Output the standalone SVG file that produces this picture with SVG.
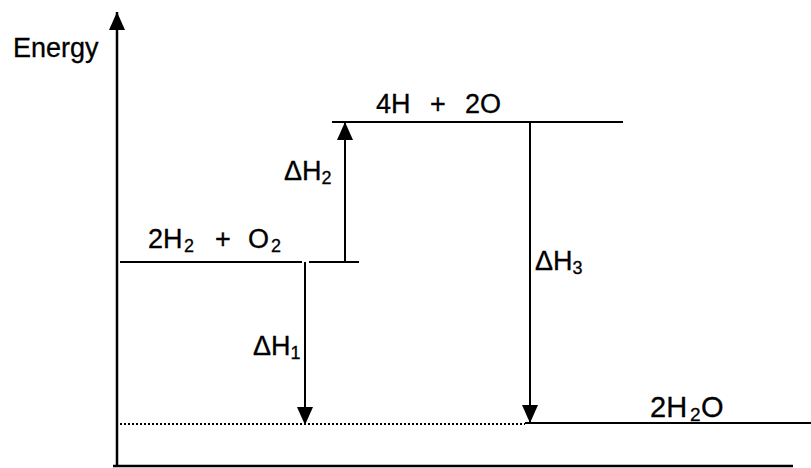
<svg xmlns="http://www.w3.org/2000/svg" width="811" height="468" viewBox="0 0 811 468">
<style>
.ln{stroke:#000;stroke-width:2;fill:none}
.t{font-family:"Liberation Sans",Arial,sans-serif;font-size:27px;fill:#000;stroke:#000;stroke-width:0.3}
.s{font-size:18px}
</style>
<defs>
<marker id="ahs" viewBox="0 0 18 16" refX="18" refY="8" markerWidth="18" markerHeight="16" markerUnits="userSpaceOnUse" orient="auto">
<path d="M0,0 L18,8 L0,16 z" fill="#000"/>
</marker>
</defs>
<rect width="811" height="468" fill="#fff"/>
<g id="axes">
<line class="ln" x1="117" y1="467" x2="117" y2="12" style="stroke-width:2.5" marker-end="url(#ahs)"/>
<line class="ln" x1="113" y1="466" x2="793" y2="466" style="stroke-width:2.5"/>
<text class="t" x="13" y="57">Energy</text>
</g>
<g id="level-reactants">
<line class="ln" x1="120" y1="262" x2="302" y2="262"/>
<line class="ln" x1="309" y1="262" x2="359" y2="262"/>
<text class="t" y="248"><tspan x="148">2H</tspan><tspan class="s" x="184" dy="4">2</tspan><tspan x="215" dy="-4">+</tspan><tspan x="248">O</tspan><tspan class="s" x="271" dy="4">2</tspan></text>
</g>
<g id="level-atoms">
<line class="ln" x1="332" y1="122" x2="623" y2="122"/>
<text class="t" y="113"><tspan x="376">4H</tspan><tspan x="430">+</tspan><tspan x="465">2O</tspan></text>
</g>
<g id="level-product">
<line class="ln" x1="525" y1="423" x2="811" y2="423"/>
<line x1="120" y1="424" x2="525" y2="424" stroke="#000" stroke-width="2.2" stroke-dasharray="2,2"/>
<text class="t" y="417" style="font-size:29px"><tspan x="650">2H</tspan><tspan class="s" style="font-size:19px" x="690" dy="4">2</tspan><tspan x="701" dy="-4">O</tspan></text>
</g>
<g id="connectors">
<line class="ln" x1="305" y1="262" x2="305" y2="425" marker-end="url(#ahs)"/>
<line class="ln" x1="345" y1="262" x2="345" y2="122" marker-end="url(#ahs)"/>
<line class="ln" x1="530" y1="122" x2="530" y2="423" marker-end="url(#ahs)"/>
</g>
<g id="labels">
<text class="t" x="253" y="355">ΔH<tspan class="s" dy="4">1</tspan></text>
<text class="t" x="284" y="180">ΔH<tspan class="s" dy="4">2</tspan></text>
<text class="t" x="535" y="270">ΔH<tspan class="s" dy="4">3</tspan></text>
</g>
</svg>
